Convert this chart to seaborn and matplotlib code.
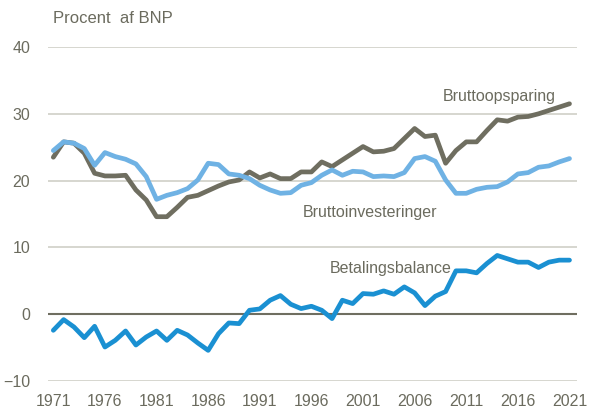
import matplotlib.pyplot as plt
import seaborn as sns
import pandas as pd
import numpy as np

# Danske nationalregnskabstal, procent af BNP, 1971-2021
aar = list(range(1971, 2022))

bruttoopsparing = [
    23.5, 25.8, 25.6, 24.1, 21.1, 20.7, 20.7, 20.8, 18.6, 17.1,
    14.6, 14.6, 16.0, 17.5, 17.8, 18.5, 19.2, 19.8, 20.1, 21.3,
    20.4, 21.0, 20.3, 20.3, 21.3, 21.3, 22.8, 22.1, 23.1, 24.1,
    25.1, 24.3, 24.4, 24.8, 26.3, 27.8, 26.6, 26.8, 22.6, 24.5,
    25.8, 25.8, 27.5, 29.1, 28.9, 29.5, 29.6, 30.0, 30.5, 31.0,
    31.5,
]

bruttoinvesteringer = [
    24.5, 25.8, 25.6, 24.8, 22.3, 24.2, 23.6, 23.2, 22.5, 20.6,
    17.2, 17.8, 18.2, 18.8, 20.1, 22.6, 22.4, 21.0, 20.8, 20.3,
    19.3, 18.6, 18.1, 18.2, 19.3, 19.7, 20.8, 21.6, 20.8, 21.4,
    21.3, 20.6, 20.7, 20.6, 21.2, 23.3, 23.6, 22.9, 20.1, 18.1,
    18.1, 18.7, 19.0, 19.1, 19.8, 21.0, 21.2, 22.0, 22.2, 22.8,
    23.3,
]

betalingsbalance = [
    -2.4, -0.8, -1.9, -3.5, -1.8, -4.9, -3.9, -2.5, -4.6, -3.4,
    -2.5, -3.9, -2.4, -3.1, -4.3, -5.4, -2.9, -1.3, -1.4, 0.6,
    0.8, 2.1, 2.8, 1.5, 0.85, 1.2, 0.6, -0.65, 2.1, 1.6,
    3.1, 3.0, 3.5, 3.0, 4.1, 3.2, 1.3, 2.7, 3.4, 6.5,
    6.5, 6.2, 7.6, 8.8, 8.3, 7.8, 7.8, 7.0, 7.8, 8.1,
    8.1,
]

serier = ['Bruttoopsparing', 'Bruttoinvesteringer', 'Betalingsbalance']
farver = ['#6f6e60', '#6fb2e4', '#1a90d2']
tekstfarve = '#6b6b5e'

df = pd.DataFrame({
    'aar': aar,
    'Bruttoopsparing': bruttoopsparing,
    'Bruttoinvesteringer': bruttoinvesteringer,
    'Betalingsbalance': betalingsbalance,
}).melt(id_vars='aar', var_name='serie', value_name='pct')

sns.set_style('white')
plt.rcParams['font.family'] = ['Liberation Sans', 'DejaVu Sans']

fig = plt.figure(figsize=(6.02, 4.12), dpi=100)
ax = fig.add_axes([0.08, 0.075, 0.878, 0.811])

# gitterlinjer
for y in [-10, 10, 20, 30, 40]:
    ax.axhline(y, color='#d3d3cb', lw=1.3, zorder=0)
ax.axhline(0, color='#6f6e60', lw=1.5, zorder=1)

sns.lineplot(data=df, x='aar', y='pct', hue='serie', hue_order=serier,
             palette=farver, linewidth=3.4, legend=False, ax=ax, zorder=3)

ax.set_xlim(1970.5, 2021.7)
ax.set_ylim(-10, 40)
ax.set_xticks(aar[::5])
ax.set_yticks([-10, 0, 10, 20, 30, 40])
ax.tick_params(axis='both', colors=tekstfarve, labelsize=11.5, length=0)
ax.tick_params(axis='y', pad=13)
ax.tick_params(axis='x', pad=9)
ax.set_xlabel('')
ax.set_ylabel('')
sns.despine(ax=ax, left=True, bottom=True)

fig.text(0.088, 0.955, 'Procent  af BNP', color=tekstfarve, fontsize=12, va='center')

ax.text(2014.2, 32.6, 'Bruttoopsparing', color=tekstfarve, fontsize=11.5, ha='center', va='center')
ax.text(2001.7, 15.3, 'Bruttoinvesteringer', color=tekstfarve, fontsize=11.5, ha='center', va='center')
ax.text(2003.7, 6.9, 'Betalingsbalance', color=tekstfarve, fontsize=11.5, ha='center', va='center')

plt.savefig('out.png', dpi=100)
